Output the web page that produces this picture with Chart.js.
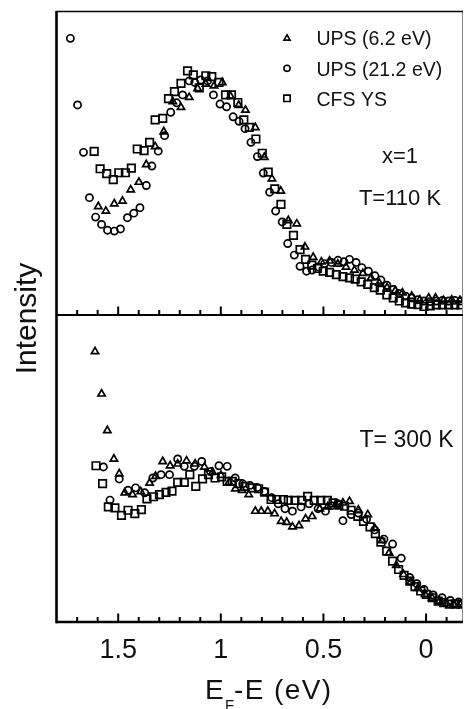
<!DOCTYPE html>
<html>
<head>
<meta charset="utf-8">
<script src="https://cdn.jsdelivr.net/npm/chart.js@4.4.0/dist/chart.umd.min.js"></script>
<style>
html,body{margin:0;padding:0;background:#fff;}
#wrap{position:relative;width:470px;height:709px;overflow:hidden;}
canvas{display:block;}
</style>
</head>
<body>
<div id="wrap"><canvas id="c" width="470" height="709"></canvas></div>
<script>
// ---------- data ----------
const seriesLabels = ['UPS (6.2 eV)', 'UPS (21.2 eV)', 'CFS YS'];
const panelNotes = ['x=1', 'T=110 K', 'T= 300 K'];
const xTitleParts = ['E', 'F', '-E (eV)'];
const yTitle = 'Intensity';
const xTickValues = [1.5, 1, 0.5, 0];
const xTickLabels = ['1.5', '1', '0.5', '0'];
const minorTickValues = [1.7, 1.6, 1.4, 1.3, 1.2, 1.1, 0.9, 0.8, 0.7, 0.6, 0.4, 0.3, 0.2, 0.1, -0.1];

// top panel, T = 110 K
const top62E = [1.597,1.560,1.519,1.479,1.439,1.399,1.363,1.320,1.278,1.234,1.194,1.154,1.113,1.073,1.033,0.993,0.953,0.913,0.880,0.832,0.788,0.751,0.708,0.671,0.630,0.590,0.550,0.510,0.470,0.430,0.390,0.349,0.308,0.268,0.228,0.190,0.150,0.115,0.070,0.030,-0.013,-0.046,-0.085,-0.125,-0.165];
const top62I = [35.7,34.2,36.6,37.5,41.2,43.7,49.5,55.4,60.3,70.2,68.3,71.6,74.5,76.0,75.4,76.5,72.0,69.0,67.4,61.7,51.9,44.8,40.8,31.1,30.0,22.4,19.0,17.5,17.8,16.8,15.8,14.8,13.7,12.2,10.5,9.0,8.0,7.3,6.2,5.0,5.6,5.6,4.8,5.0,4.8];

const top212E = [1.733,1.698,1.669,1.640,1.610,1.581,1.552,1.519,1.489,1.455,1.424,1.394,1.363,1.336,1.305,1.274,1.244,1.215,1.186,1.154,1.127,1.098,1.065,1.036,1.004,0.972,0.940,0.911,0.882,0.853,0.822,0.793,0.762,0.733,0.701,0.674,0.642,0.614,0.582,0.555,0.525,0.494,0.461,0.429,0.400,0.373,0.341,0.313,0.281,0.249,0.220,0.191,0.160,0.131,0.100,0.070,0.040,0.010,-0.020,-0.050,-0.080,-0.110,-0.140,-0.170];
const top212I = [91.0,69.1,53.5,38.6,32.2,29.8,27.9,27.6,28.3,32.0,33.5,35.3,42.6,49.0,53.9,59.0,66.7,69.8,72.4,77.0,76.5,77.3,77.0,72.4,69.4,68.5,65.2,63.7,61.3,56.8,52.1,46.7,40.4,34.2,30.6,23.5,19.7,16.0,14.4,14.8,15.8,16.9,17.3,18.0,17.5,18.3,17.3,15.6,14.4,12.9,11.5,9.8,8.4,7.1,6.2,5.6,5.0,4.6,4.4,4.6,4.8,4.6,4.8,4.6];

const topCfsE = [1.617,1.588,1.556,1.524,1.497,1.465,1.436,1.407,1.374,1.347,1.320,1.283,1.255,1.226,1.194,1.162,1.134,1.105,1.073,1.044,1.009,0.977,0.948,0.917,0.888,0.861,0.829,0.798,0.769,0.737,0.707,0.678,0.646,0.614,0.587,0.557,0.529,0.501,0.470,0.437,0.405,0.373,0.345,0.316,0.284,0.252,0.223,0.191,0.160,0.130,0.100,0.070,0.040,0.010,-0.020,-0.050,-0.080,-0.110,-0.140,-0.170];
const topCfsI = [53.8,48.1,46.5,44.5,46.8,46.8,48.3,54.6,54.1,56.8,64.2,64.7,71.2,73.5,76.2,80.3,79.0,74.7,78.7,78.4,76.5,72.4,72.4,69.9,64.2,61.7,57.9,53.2,47.0,41.5,36.4,29.8,26.2,21.5,18.3,16.4,15.3,14.4,14.0,13.3,12.6,12.2,11.8,10.9,10.1,9.0,8.2,6.6,5.6,4.6,4.0,3.6,3.4,2.8,3.0,3.3,3.3,3.3,3.3,3.3];

// bottom panel, T = 300 K
const bot62E = [1.613,1.581,1.553,1.521,1.495,1.468,1.430,1.390,1.347,1.318,1.283,1.247,1.210,1.167,1.125,1.080,1.040,0.999,0.960,0.929,0.896,0.864,0.832,0.803,0.771,0.738,0.706,0.679,0.651,0.619,0.587,0.555,0.518,0.480,0.440,0.405,0.373,0.330,0.284,0.250,0.215,0.180,0.145,0.110,0.075,0.040,0.005,-0.030,-0.065,-0.100,-0.135,-0.170];
const bot62I = [88.1,74.3,62.4,53.1,48.3,42.1,41.5,42.5,45.3,47.5,52.3,50.9,51.5,52.5,51.5,50.5,48.8,47.8,45.5,43.4,42.9,41.5,36.1,36.1,36.1,35.3,32.8,32.5,31.0,31.4,33.6,34.4,36.9,37.5,38.3,38.8,39.3,36.5,35.0,30.5,26.5,22.5,18.5,15.5,13.0,11.0,9.0,7.8,6.8,6.0,5.8,5.8];

const bot212E = [1.572,1.540,1.495,1.452,1.415,1.371,1.331,1.291,1.250,1.210,1.178,1.129,1.093,1.050,1.009,0.969,0.930,0.893,0.858,0.822,0.788,0.752,0.720,0.687,0.651,0.609,0.570,0.526,0.490,0.461,0.430,0.405,0.365,0.330,0.290,0.250,0.205,0.163,0.121,0.080,0.045,0.010,-0.035,-0.078,-0.118,-0.158];
const bot212I = [50.5,39.7,46.6,42.9,43.7,42.1,46.9,48.0,48.0,53.1,50.7,50.7,52.3,49.0,50.9,50.7,46.9,45.0,44.5,43.8,42.5,40.5,38.5,36.9,36.1,37.5,38.5,36.9,36.1,37.9,38.5,33.0,35.0,35.5,33.5,30.0,27.0,25.4,20.8,14.5,12.5,10.6,8.8,7.9,7.0,6.5];

const botCfsE = [1.608,1.576,1.548,1.516,1.484,1.452,1.419,1.387,1.360,1.328,1.299,1.267,1.238,1.210,1.178,1.151,1.122,1.089,1.060,1.028,0.996,0.969,0.944,0.912,0.883,0.848,0.816,0.787,0.755,0.727,0.695,0.671,0.639,0.606,0.577,0.545,0.513,0.481,0.453,0.425,0.397,0.365,0.332,0.305,0.273,0.247,0.220,0.192,0.163,0.134,0.107,0.079,0.054,0.026,-0.001,-0.030,-0.059,-0.086,-0.113,-0.142,-0.171];
const botCfsI = [50.9,45.1,37.5,37.2,34.7,36.4,35.3,36.6,40.1,40.8,41.5,42.2,42.6,45.5,45.5,48.0,44.2,46.6,48.0,46.9,47.3,45.8,45.8,45.1,44.2,43.7,43.4,42.3,39.9,39.9,39.9,39.6,39.6,39.6,40.9,39.6,39.6,39.6,38.8,38.1,37.7,36.4,34.4,32.8,31.0,28.8,26.0,23.1,19.8,17.1,15.2,13.3,11.5,10.1,9.0,7.9,6.8,6.3,5.8,5.8,5.8];

// ---------- chart ----------
const FONT = "'Liberation Sans', Arial, Helvetica, sans-serif";
Chart.defaults.font.family = FONT;
Chart.defaults.color = '#111';

const pts = (E, I) => E.map((e, i) => ({x: e, y: I[i]}));
const markerStyles = [
  {pointStyle: 'triangle', pointRadius: 4.2},
  {pointStyle: 'circle', pointRadius: 3.6},
  {pointStyle: 'rect', pointRadius: 5.3}
];
function ds(idx, E, I, yAxisID) {
  return Object.assign({
    label: seriesLabels[idx],
    data: pts(E, I),
    yAxisID: yAxisID,
    xAxisID: 'x',
    showLine: false,
    borderColor: '#000',
    backgroundColor: 'rgba(255,255,255,0)',
    pointBorderWidth: 1.7,
    pointHoverRadius: 0
  }, markerStyles[idx]);
}

function drawMarker(ctx, style, r, x, y) {
  ctx.beginPath();
  if (style === 'circle') {
    ctx.arc(x, y, r, 0, Math.PI * 2);
  } else if (style === 'rect') {
    const s = r * Math.SQRT1_2;
    ctx.rect(x - s, y - s, 2 * s, 2 * s);
  } else {
    let a = 0;
    ctx.moveTo(x + Math.sin(a) * r, y - Math.cos(a) * r);
    a += 2 * Math.PI / 3; ctx.lineTo(x + Math.sin(a) * r, y - Math.cos(a) * r);
    a += 2 * Math.PI / 3; ctx.lineTo(x + Math.sin(a) * r, y - Math.cos(a) * r);
    ctx.closePath();
  }
  ctx.stroke();
}

const framePlugin = {
  id: 'frameAndText',
  afterDatasetsDraw(chart) {
    const ctx = chart.ctx;
    const xs = chart.scales.x, yT = chart.scales.yTop, yB = chart.scales.yBot;
    const L = chart.chartArea.left, R = chart.chartArea.right;
    const line = (x1, y1, x2, y2) => { ctx.beginPath(); ctx.moveTo(x1, y1); ctx.lineTo(x2, y2); ctx.stroke(); };
    ctx.save();
    // frame
    ctx.strokeStyle = '#8a8a8a'; ctx.lineWidth = 1;
    line(R - 0.5, yT.top, R - 0.5, yB.bottom);
    ctx.strokeStyle = '#000';
    ctx.lineWidth = 1.6; line(L, yT.top + 0.5, R, yT.top + 0.5);
    ctx.lineWidth = 2.2; line(L, yT.bottom, R, yT.bottom);
    ctx.lineWidth = 2.6; line(L, yB.bottom, R, yB.bottom);
    ctx.lineWidth = 2.6; line(L + 0.5, yT.top, L + 0.5, yB.bottom + 1.3);
    // inward ticks on the bottom edge of each panel
    ctx.lineWidth = 2;
    [yT.bottom, yB.bottom].forEach(base => {
      minorTickValues.forEach(v => { const p = xs.getPixelForValue(v); line(p, base, p, base - 5); });
      xTickValues.forEach(v => { const p = xs.getPixelForValue(v); line(p, base, p, base - 8.5); });
    });
    // legend (top panel datasets)
    ctx.fillStyle = '#111';
    ctx.font = '19.5px ' + FONT;
    ctx.textAlign = 'left'; ctx.textBaseline = 'alphabetic';
    const legRows = [37.3, 68.3, 98.3];
    for (let i = 0; i < 3; i++) {
      const d = chart.data.datasets[i];
      ctx.lineWidth = 1.6; ctx.strokeStyle = '#000';
      drawMarker(ctx, d.pointStyle, d.pointRadius * 0.85, 287, legRows[i] + (d.pointStyle === 'triangle' ? 1 : 0));
      ctx.fillText(d.label, 316.5, legRows[i] + 7.5);
    }
    // panel notes
    ctx.textAlign = 'center';
    ctx.font = '22px ' + FONT;
    ctx.fillText(panelNotes[0], 400, 162.5);
    ctx.fillText(panelNotes[1], 400, 205);
    ctx.font = '23px ' + FONT;
    ctx.fillText(panelNotes[2], 406.5, 447);
    // y title
    ctx.save();
    ctx.translate(36, (yT.top + yB.bottom) / 2 + 2);
    ctx.rotate(-Math.PI / 2);
    ctx.font = '30px ' + FONT;
    ctx.textAlign = 'center';
    ctx.fillText(yTitle, 0, 0);
    ctx.restore();
    // x title with subscript
    ctx.textAlign = 'left';
    try { ctx.letterSpacing = '1.4px'; } catch (e) {}
    ctx.font = '28px ' + FONT;
    ctx.fillText(xTitleParts[0], 205, 698.5);
    ctx.font = '15px ' + FONT;
    ctx.fillText(xTitleParts[1], 225, 710);
    ctx.font = '28px ' + FONT;
    ctx.fillText(xTitleParts[2], 234, 698.5);
    ctx.restore();
  }
};

const sortedTicks = xTickValues.slice().sort((a, b) => a - b);

new Chart(document.getElementById('c'), {
  type: 'scatter',
  data: {
    datasets: [
      ds(0, top62E, top62I, 'yTop'),
      ds(1, top212E, top212I, 'yTop'),
      ds(2, topCfsE, topCfsI, 'yTop'),
      ds(0, bot62E, bot62I, 'yBot'),
      ds(1, bot212E, bot212I, 'yBot'),
      ds(2, botCfsE, botCfsI, 'yBot')
    ]
  },
  options: {
    responsive: false,
    devicePixelRatio: 1,
    animation: false,
    events: [],
    layout: {padding: {left: 56, right: 2, top: 11, bottom: 0}},
    plugins: {legend: {display: false}, tooltip: {enabled: false}, title: {display: false}},
    scales: {
      x: {
        type: 'linear',
        position: 'bottom',
        reverse: true,
        min: -0.18,
        max: 1.803,
        grid: {display: false, drawTicks: false},
        border: {display: false},
        afterBuildTicks: (scale) => { scale.ticks = sortedTicks.map(v => ({value: v})); },
        afterFit: (scale) => { scale.height = 87; },
        ticks: {
          autoSkip: false,
          maxRotation: 0,
          padding: 12.5,
          color: '#111',
          font: {size: 27, family: FONT},
          callback: (v) => xTickLabels[xTickValues.indexOf(v)]
        }
      },
      yBot: {
        type: 'linear', position: 'left', stack: 'panels', stackWeight: 307,
        min: 0, max: 100,
        grid: {display: false, drawTicks: false}, border: {display: false},
        ticks: {display: false}
      },
      yTop: {
        type: 'linear', position: 'left', stack: 'panels', stackWeight: 304,
        min: 0, max: 100,
        grid: {display: false, drawTicks: false}, border: {display: false},
        ticks: {display: false}
      }
    }
  },
  plugins: [framePlugin]
});
</script>
</body>
</html>
